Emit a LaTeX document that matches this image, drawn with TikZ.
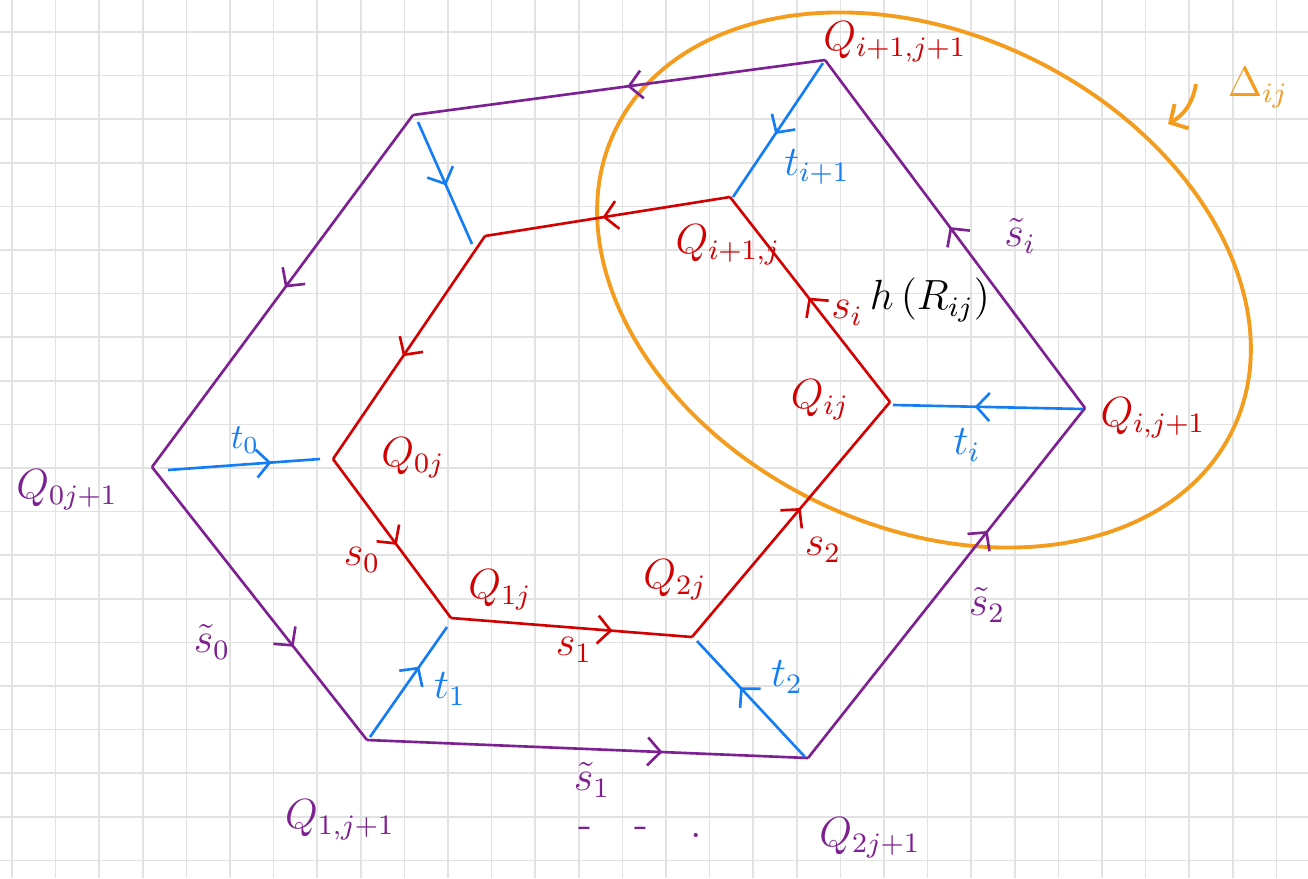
\documentclass[tikz,border=0pt]{standalone}
\usepackage{amsmath,amssymb}
\usepackage{tikz}
\usetikzlibrary{arrows.meta,decorations.markings}
\usepackage{xcolor}

\definecolor{penpurple}{RGB}{125,32,145}
\definecolor{penred}{RGB}{210,0,0}
\definecolor{penblue}{RGB}{20,125,245}
\definecolor{penorange}{RGB}{243,156,30}
\definecolor{gridgray}{RGB}{226,226,226}

\tikzset{
  midarrow/.style={postaction={decorate},decoration={markings,
      mark=at position #1 with {\arrow{Straight Barb[length=1.3mm,width=2.8mm]}}}},
  outeredge/.style={draw=penpurple,line width=0.75pt},
  inneredge/.style={draw=penred,line width=0.75pt},
  tedge/.style={draw=penblue,line width=0.75pt},
  redlabel/.style={text=penred,font=\large},
  purplelabel/.style={text=penpurple,font=\large},
  bluelabel/.style={text=penblue,font=\large},
}

\begin{document}
\begin{tikzpicture}[x=0.01cm,y=-0.01cm]
\useasboundingbox (0,0) rectangle (1308,878);
\fill[white] (0,0) rectangle (1308,878);
% squared paper
\foreach \k in {0,...,29} \draw[gridgray,line width=0.5pt] (12+\k*43.6,0) -- (12+\k*43.6,878);
\foreach \k in {0,...,19} \draw[gridgray,line width=0.5pt] (0,32+\k*43.6) -- (1308,32+\k*43.6);

% outer corners
\coordinate (Qtr) at (825,60);
\coordinate (Qtl) at (413,115);
\coordinate (Q0jp) at (152,467);
\coordinate (Q1jp) at (367,740);
\coordinate (Q2jp) at (808,758);
\coordinate (Qijp) at (1085,408);
% inner corners
\coordinate (Qipj) at (730,197);
\coordinate (Qitl) at (485,236);
\coordinate (Q0j) at (333,459);
\coordinate (Q1j) at (451,618);
\coordinate (Q2j) at (692,637);
\coordinate (Qij) at (890,402);
% ends of the t segments
\coordinate (ta1) at (823,63);  \coordinate (tb1) at (733,197);
\coordinate (ta2) at (418,122); \coordinate (tb2) at (472,244);
\coordinate (ta3) at (168,470); \coordinate (tb3) at (320,459);
\coordinate (ta4) at (370,737); \coordinate (tb4) at (447,627);
\coordinate (ta5) at (805,757); \coordinate (tb5) at (697,641);
\coordinate (ta6) at (1083,409); \coordinate (tb6) at (893,405);

% the disc Delta_ij
\coordinate (dc) at (924,280);
\draw[penorange,line width=1.1pt,rotate around={-26:(dc)}] (dc) ellipse [x radius=3.43cm,y radius=2.46cm];

% outer hexagon
\draw[outeredge,midarrow=0.48] (Qtr) -- (Qtl);
\draw[outeredge,midarrow=0.49] (Qtl) -- (Q0jp);
\draw[outeredge,midarrow=0.66] (Q0jp) -- (Q1jp);
\draw[outeredge,midarrow=0.67] (Q1jp) -- (Q2jp);
\draw[outeredge,midarrow=0.65] (Q2jp) -- (Qijp);
\draw[outeredge,midarrow=0.52] (Qijp) -- (Qtr);

% inner hexagon
\draw[inneredge,midarrow=0.52] (Qipj) -- (Qitl);
\draw[inneredge,midarrow=0.54] (Qitl) -- (Q0j);
\draw[inneredge,midarrow=0.54] (Q0j) -- (Q1j);
\draw[inneredge,midarrow=0.67] (Q1j) -- (Q2j);
\draw[inneredge,midarrow=0.55] (Q2j) -- (Qij);
\draw[inneredge,midarrow=0.51] (Qij) -- (Qipj);

% t segments
\draw[tedge,midarrow=0.53] (ta1) -- (tb1);
\draw[tedge,midarrow=0.52] (ta2) -- (tb2);
\draw[tedge,midarrow=0.68] (ta3) -- (tb3);
\draw[tedge,midarrow=0.64] (ta4) -- (tb4);
\draw[tedge,midarrow=0.60] (ta5) -- (tb5);
\draw[tedge,midarrow=0.57] (ta6) -- (tb6);

% red labels
\node[redlabel] (lQtr) at (895,42) {$Q_{i+1,j+1}$};
\node[redlabel] (lQipj) at (728,245) {$Q_{i+1,j}$};
\node[redlabel] (lQij) at (820,400) {$Q_{ij}$};
\node[redlabel] (lQijp) at (1153,418) {$Q_{i,j+1}$};
\node[redlabel] (lQ0j) at (413,458) {$Q_{0j}$};
\node[redlabel] (lQ1j) at (500,590) {$Q_{1j}$};
\node[redlabel] (lQ2j) at (675,580) {$Q_{2j}$};
\node[redlabel] (ls0) at (362,560) {$s_0$};
\node[redlabel] (ls1) at (574,650) {$s_1$};
\node[redlabel] (ls2) at (823,550) {$s_2$};
\node[redlabel] (lsi) at (847,313) {$s_i$};

% purple labels
\node[purplelabel] (lQ0jp) at (67,490) {$Q_{0j+1}$};
\node[purplelabel] (lQ1jp) at (340,820) {$Q_{1,j+1}$};
\node[purplelabel] (lQ2jp) at (870,838) {$Q_{2j+1}$};
\node[purplelabel] (lts0) at (212,642) {$\tilde{s}_0$};
\node[purplelabel] (lts1) at (592,780) {$\tilde{s}_1$};
\node[purplelabel] (lts2) at (987,605) {$\tilde{s}_2$};
\node[purplelabel] (ltsi) at (1020,236) {$\tilde{s}_i$};
\node[purplelabel] (ldots) at (640,832) {-\quad-\quad.};

% blue labels
\node[bluelabel] (lt1p) at (817,167) {$t_{i+1}$};
\node[bluelabel] (lti) at (967,445) {$t_i$};
\node[bluelabel,font=\normalsize] (lt0) at (245,440) {$t_0$};
\node[bluelabel] (lt1) at (450,689) {$t_1$};
\node[bluelabel] (lt2) at (787,677) {$t_2$};

% image of R_ij and the name of the disc
\node[font=\large] (lh) at (930,300) {$h\,(R_{ij})$};
\node[text=penorange,font=\large] (lDelta) at (1258,88) {$\Delta_{ij}$};
\coordinate (da) at (1196,84);
\coordinate (db) at (1168,124);
\draw[penorange,line width=1.1pt,-{Straight Barb[length=1.3mm,width=2.8mm]}] (da) to[bend left=25] (db);
\end{tikzpicture}
\end{document}
